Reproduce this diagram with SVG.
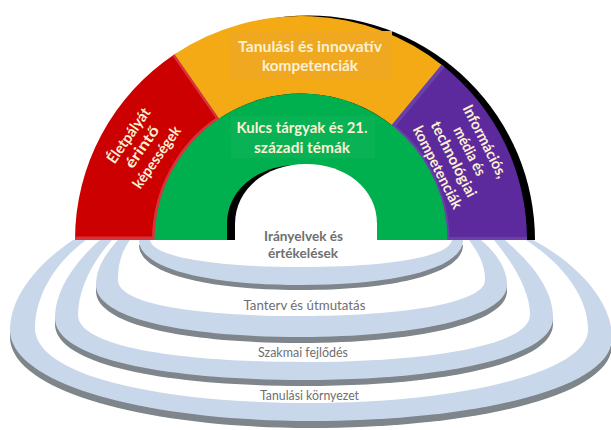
<svg xmlns="http://www.w3.org/2000/svg" width="611" height="430" viewBox="0 0 611 430">
  <style>
    .band { font-family: Lato, "Liberation Sans", sans-serif; font-weight: bold; fill: #fcf1d4; text-anchor: middle; }
    .ringfill { fill: #c9d7ea; }
    .ringshadow { fill: #7e858b; }
    .ringtop { fill: #ffffff; }
    .rtxt { font-family: Lato, "Liberation Sans", sans-serif; fill: #6f6f6f; font-size: 14px; text-anchor: middle; }
  </style>
  <rect width="611" height="430" fill="#ffffff"/>

  <!-- rainbow arch -->
  <g id="arch-shadow">
    <path d="M 82,240 A 226 224 0 0 1 535,240 Z" fill="#000000"/>
  </g>

  <g id="life-career-skills">
    <path d="M 75,240 A 226 224 0 0 1 174.6,54.3 L 219.1,118.6 A 146.5 146.5 0 0 0 154.5,240 Z" fill="#cc0000"/>
    <path d="M 174.6,54.3 L 219.1,118.6 A 146.5 146.5 0 0 0 154.5,239 L 75,239" fill="none" stroke="#d8323c" stroke-width="5"/>
    <g transform="translate(141.7,146.7) rotate(-55)" class="band" font-size="15">
      <text x="1.5" y="-12" textLength="64" lengthAdjust="spacingAndGlyphs">Életpályát</text>
      <text x="0" y="5.5" textLength="48" lengthAdjust="spacingAndGlyphs">érintő</text>
      <text x="0" y="23.5" textLength="72" lengthAdjust="spacingAndGlyphs">képességek</text>
    </g>
  </g>

  <g id="learning-innovation-skills">
    <path d="M 174.6,54.3 A 226 224 0 0 1 443.2,65.9 L 393.2,126.2 A 146.5 146.5 0 0 0 219.1,118.6 Z" fill="#f4aa14"/>
    <rect x="230" y="31" width="162" height="49" fill="#f0a820"/>
    <text class="band" x="310" y="52" font-size="16" textLength="144" lengthAdjust="spacingAndGlyphs">Tanulási és innovatív</text>
    <text class="band" x="310" y="71" font-size="16" textLength="96" lengthAdjust="spacingAndGlyphs">kompetenciák</text>
  </g>

  <g id="information-media-technology-skills">
    <path d="M 443.2,65.9 A 226 224 0 0 1 527,240 L 447.5,240 A 146.5 146.5 0 0 0 393.2,126.2 Z" fill="#5c2a9d"/>
    <path d="M 443.2,65.9 L 393.2,126.2 A 146.5 146.5 0 0 1 447.5,239 L 527,239" fill="none" stroke="#6840a8" stroke-width="4"/>
    <g transform="translate(462,155) rotate(63)" class="band" font-size="15">
      <text x="-1.8" y="-21.5" textLength="80" lengthAdjust="spacingAndGlyphs">Információs,</text>
      <text x="0" y="-3.5" textLength="53" lengthAdjust="spacingAndGlyphs">média és</text>
      <text x="0" y="14.5" textLength="83" lengthAdjust="spacingAndGlyphs">technológiai</text>
      <text x="0" y="32.5" textLength="91" lengthAdjust="spacingAndGlyphs">kompetenciák</text>
    </g>
  </g>

  <g id="core-subjects">
    <path d="M 154.5,240 A 146.5 146.5 0 0 1 447.5,240 Z" fill="#00b04f"/>
    <rect x="231" y="116" width="144" height="42" fill="#08b255"/>
    <!-- opening of the arch with its inner shadow -->
    <path d="M 227,240 L 227,224 C 227,189 259,165 298,165 C 337,165 369,189 369,224 L 369,240 Z" fill="#000000"/>
    <path d="M 235,241 L 235,224 C 235,188 267,164 306,164 C 345,164 377,188 377,224 L 377,241 Z" fill="#ffffff"/>
    <text class="band" x="302" y="133" font-size="16" textLength="131" lengthAdjust="spacingAndGlyphs">Kulcs tárgyak és 21.</text>
    <text class="band" x="302" y="152.5" font-size="16" textLength="96" lengthAdjust="spacingAndGlyphs">századi témák</text>
  </g>

  <!-- support systems: stacked rings under the arch -->
  <g id="learning-environments">
    <path class="ringshadow" transform="translate(0,7)" d="M 73,240 C 40,262 10,295 10,330 C 10,385 150,421 310,421 C 470,421 612,390 612,338 C 612,300 575,262 533,240 Z"/>
    <path class="ringfill" d="M 73,240 C 40,262 10,295 10,330 C 10,385 150,421 310,421 C 470,421 612,390 612,338 C 612,300 575,262 533,240 Z"/>
    <path class="ringtop" d="M 86,240 C 56,262 35,295 35,328 C 35,376 160,403 310,403 C 460,403 588,372 588,330 C 588,295 560,262 526,240 Z"/>
    <text class="rtxt" x="309.5" y="400" textLength="99" lengthAdjust="spacingAndGlyphs">Tanulási környezet</text>
  </g>

  <g id="professional-development">
    <path class="ringshadow" transform="translate(0,6)" d="M 100,240 C 75,262 55,290 55,318 C 55,360 170,380 305,380 C 440,380 553,358 553,318 C 553,288 530,262 505,240 Z"/>
    <path class="ringfill" d="M 100,240 C 75,262 55,290 55,318 C 55,360 170,380 305,380 C 440,380 553,358 553,318 C 553,288 530,262 505,240 Z"/>
    <path class="ringtop" d="M 112,240 C 92,262 78,290 78,315 C 78,347 180,362 305,362 C 430,362 530,345 530,315 C 530,290 512,262 494,240 Z"/>
    <text class="rtxt" x="303" y="357" textLength="90" lengthAdjust="spacingAndGlyphs">Szakmai fejlődés</text>
  </g>

  <g id="curriculum-instruction">
    <path class="ringshadow" transform="translate(0,6)" d="M 118,240 C 104,255 96,270 96,285 C 96,320 190,337 301,337 C 412,337 507,318 507,285 C 507,268 496,253 481,240 Z"/>
    <path class="ringfill" d="M 118,240 C 104,255 96,270 96,285 C 96,320 190,337 301,337 C 412,337 507,318 507,285 C 507,268 496,253 481,240 Z"/>
    <path class="ringtop" d="M 130,240 C 120,254 118,266 118,280 C 118,305 200,316 301,316 C 402,316 485,303 485,280 C 485,264 478,252 469,240 Z"/>
    <text class="rtxt" x="304.5" y="310" textLength="122" lengthAdjust="spacingAndGlyphs">Tanterv és útmutatás</text>
  </g>

  <g id="standards-assessments">
    <path class="ringshadow" transform="translate(0,5)" d="M 139,240 C 139,268 205,285 301,285 C 397,285 463,268 463,240 Z"/>
    <path class="ringfill" d="M 139,240 C 139,268 205,285 301,285 C 397,285 463,268 463,240 Z"/>
    <path class="ringtop" d="M 150,240 C 152,257 215,267 301,267 C 387,267 450,257 452,240 Z"/>
    <text class="rtxt" x="303.5" y="240.5" font-size="15" font-weight="bold" fill="#858585" textLength="79" lengthAdjust="spacingAndGlyphs">Irányelvek és</text>
    <text class="rtxt" x="303" y="258" font-size="15" font-weight="bold" fill="#858585" textLength="70" lengthAdjust="spacingAndGlyphs">értékelések</text>
  </g>
</svg>
